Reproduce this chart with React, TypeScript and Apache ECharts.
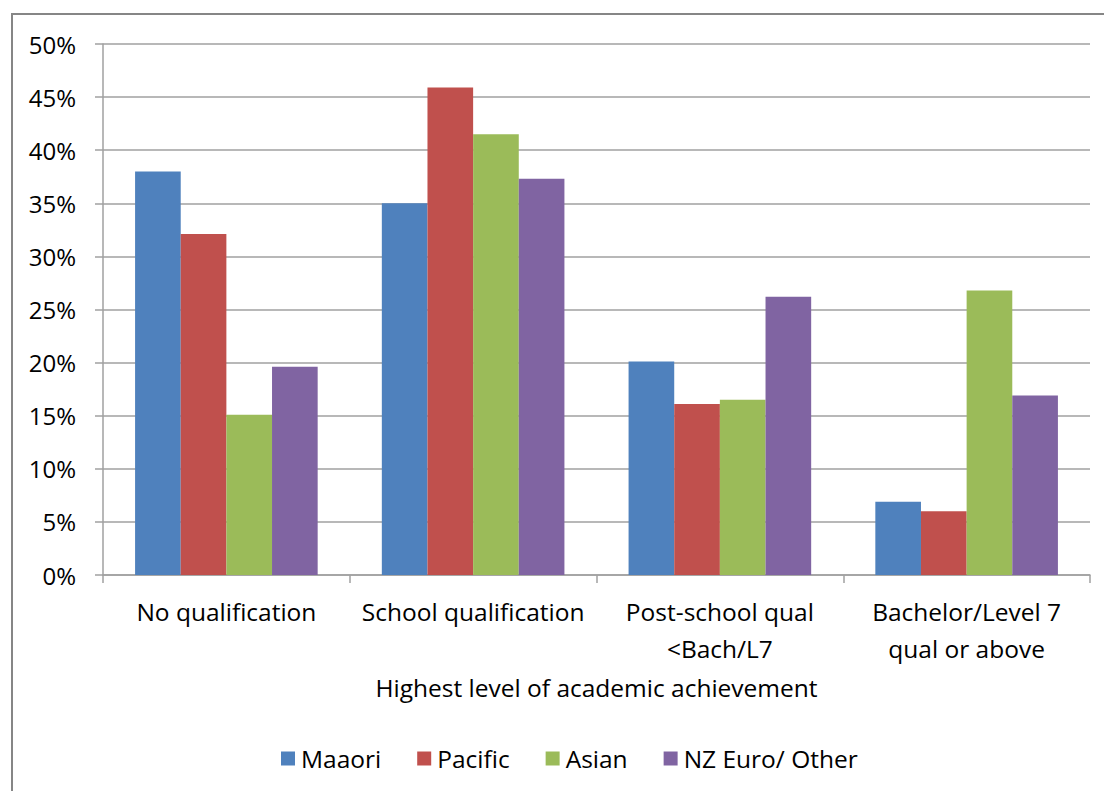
import React, { useEffect, useRef } from "react";
import * as echarts from "echarts";

const categories = [
  "No qualification",
  "School qualification",
  "Post-school qual\n<Bach/L7",
  "Bachelor/Level 7\nqual or above",
];
const maaori = [38.0, 35.0, 20.1, 6.9];
const pacific = [32.1, 45.9, 16.1, 6.0];
const asian = [15.1, 41.5, 16.5, 26.8];
const nzEuro = [19.6, 37.3, 26.2, 16.9];
const seriesNames = ["Maaori", "Pacific", "Asian", "NZ Euro/ Other"];
const colors = ["#4F81BD", "#C0504D", "#9BBB59", "#8064A2"];

const FONT = "'Open Sans', sans-serif";

export default function App() {
  const ref = useRef<HTMLDivElement>(null);
  useEffect(() => {
    if (!ref.current) return;
    const chart = echarts.init(ref.current, undefined, { renderer: "svg" });
    const data = [maaori, pacific, asian, nzEuro];
    chart.setOption({
      animation: false,
      backgroundColor: "#ffffff",
      textStyle: { fontFamily: FONT, color: "#000" },
      graphic: [
        {
          type: "rect",
          shape: { x: 12, y: 14, width: 1200, height: 900 },
          style: { fill: "none", stroke: "#868686", lineWidth: 2 },
          silent: true,
        },
      ],
      grid: { left: 103, right: 14, top: 44, bottom: 216, containLabel: false },
      legend: {
        left: 276,
        top: 741,
        itemWidth: 14,
        itemHeight: 14,
        itemGap: 36,
        icon: "rect",
        textStyle: { fontFamily: FONT, fontSize: 24.5, color: "#000", padding: [0, 0, 0, 1] },
        data: seriesNames,
      },
      xAxis: {
        type: "category",
        data: categories,
        name: "Highest level of academic achievement",
        nameLocation: "middle",
        nameGap: 100,
        nameTextStyle: { fontFamily: FONT, fontSize: 24.5, color: "#000" },
        axisLine: { lineStyle: { color: "#a0a0a0", width: 1.5 } },
        axisTick: { show: true, length: 8, lineStyle: { color: "#a0a0a0", width: 1.5 } },
        axisLabel: {
          fontFamily: FONT,
          fontSize: 24.5,
          lineHeight: 37,
          color: "#000",
          margin: 18,
          interval: 0,
        },
      },
      yAxis: {
        type: "value",
        min: 0,
        max: 50,
        interval: 5,
        axisLine: { show: true, lineStyle: { color: "#a0a0a0", width: 1.5 } },
        axisTick: { show: true, length: 8, lineStyle: { color: "#a0a0a0", width: 1.5 } },
        splitLine: { lineStyle: { color: "#a0a0a0", width: 1.5 } },
        axisLabel: {
          fontFamily: FONT,
          fontSize: 24,
          color: "#000",
          margin: 27,
          formatter: "{value}%",
        },
      },
      series: seriesNames.map((name, i) => ({
        name,
        type: "bar",
        data: data[i],
        itemStyle: { color: colors[i] },
        barGap: "0%",
        barCategoryGap: "26%",
      })),
    });
    return () => chart.dispose();
  }, []);
  return (
    <div
      ref={ref}
      style={{ position: "fixed", left: 0, top: 0, width: 1104, height: 791 }}
    />
  );
}
